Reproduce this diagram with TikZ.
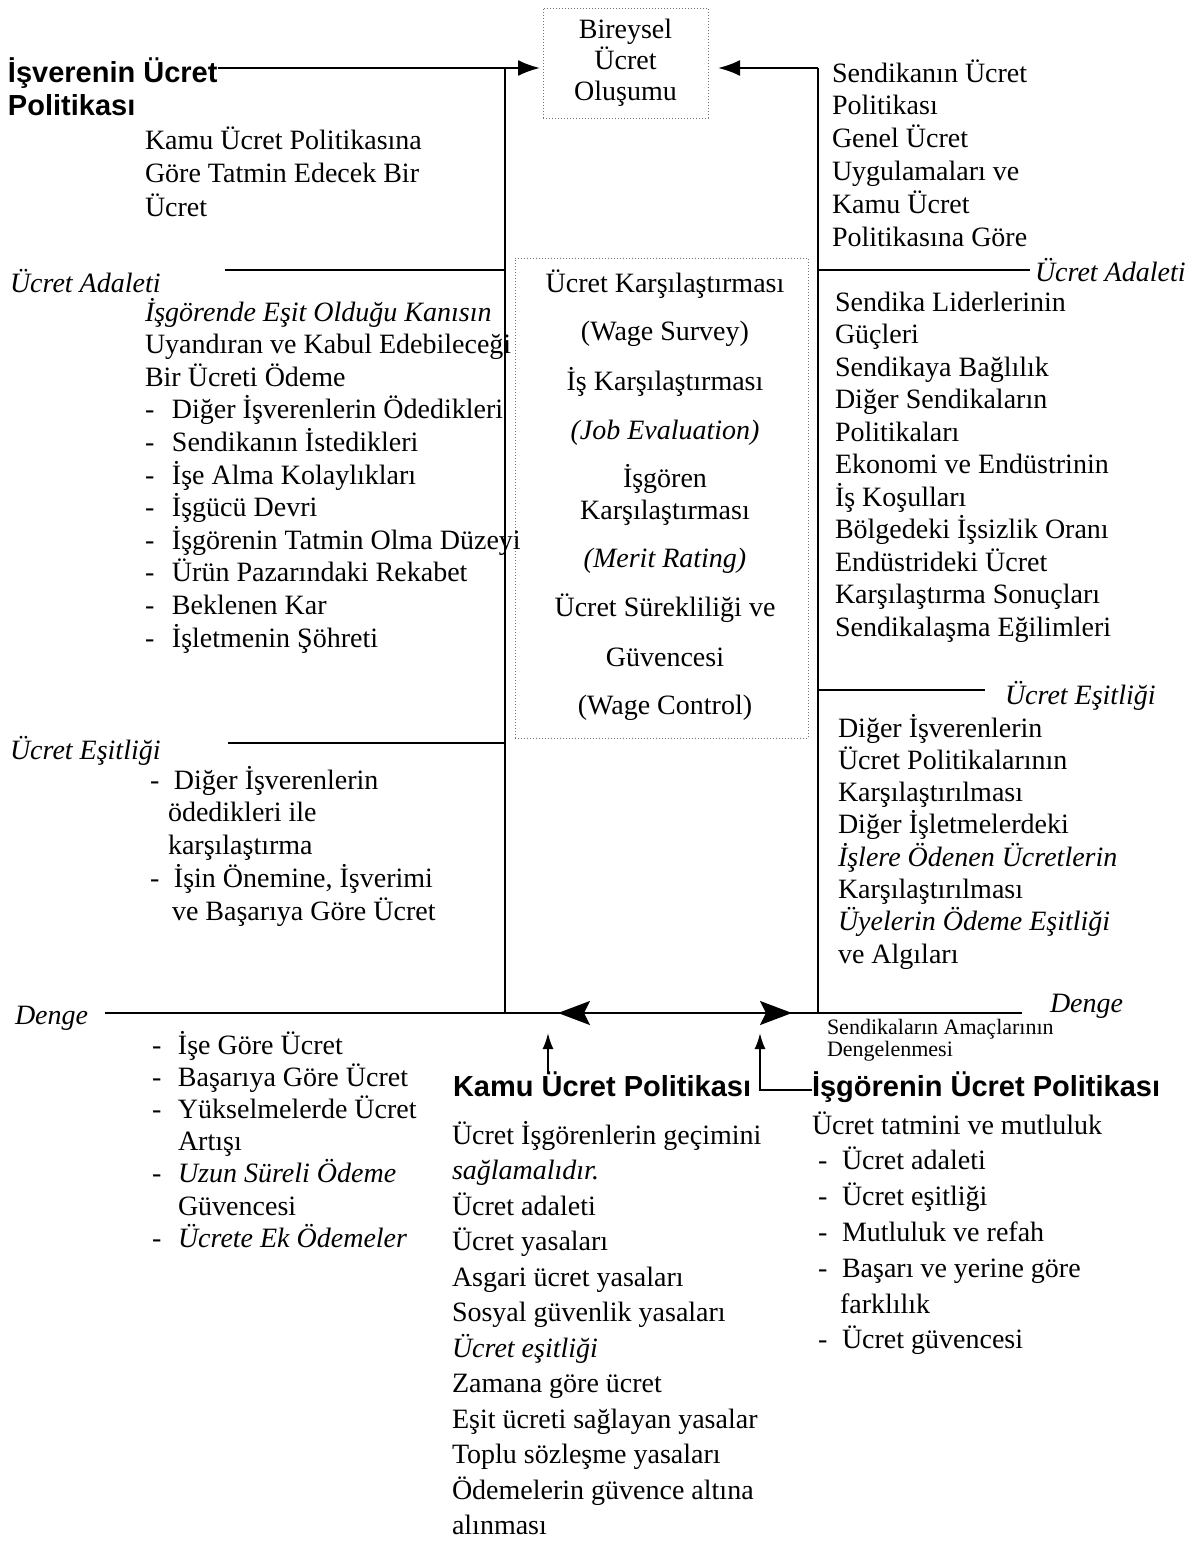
\documentclass[tikz,border=0pt]{standalone}
\usepackage{fontspec}
\setmainfont{Liberation Serif}
\newfontfamily\hsans{Liberation Sans}
\usetikzlibrary{arrows.meta}
\newcommand{\dashitem}[2][24pt]{\makebox[#1][l]{-}#2}
\begin{document}
\begin{tikzpicture}[x=1pt,y=-1pt,
 every node/.style={inner sep=0pt, outer sep=0pt},
 txt/.style={anchor=base west, font=\fontsize{28}{32}\selectfont},
 ctxt/.style={anchor=base, font=\fontsize{28}{32}\selectfont},
 hdr/.style={anchor=base west, font=\hsans\bfseries\fontsize{29}{32}\selectfont},
 lbl/.style={anchor=base west, font=\itshape\fontsize{28}{32}\selectfont},
 smalltxt/.style={anchor=base west, font=\fontsize{22}{17}\selectfont},
 conn/.style={line width=2.2pt},
 arr/.style={conn,-{Latex[length=22pt,width=16pt]}},
 bigarr/.style={conn,-{Stealth[length=32pt,width=24pt,inset=6pt]}},
 upar/.style={line width=2pt,-{Latex[length=16pt,width=11pt]}},
 dotbox/.style={draw=black!55, dotted, line width=1pt},
]
\fill[white] (0,0) rectangle (1200,1545);
\useasboundingbox (0,0) rectangle (1200,1545);

% boxes
\node[dotbox, minimum width=165pt, minimum height=110pt, align=center,
      font=\fontsize{28}{31}\selectfont] (box1) at (625.5,63) {Bireysel\\Ücret\\Oluşumu};
\node[dotbox, minimum width=293pt, minimum height=480pt] (box2) at (661.5,498) {};
\foreach \t/\yy [count=\i] in {{Ücret Karşılaştırması}/292, {(Wage Survey)}/340,
  {İş Karşılaştırması}/390, {\textit{(Job Evaluation)}}/439, {İşgören}/487,
  {Karşılaştırması}/519, {\textit{(Merit Rating)}}/567, {Ücret Sürekliliği ve}/616,
  {Güvencesi}/666, {(Wage Control)}/714}
  \node[ctxt] (bx\i) at (665,\yy) {\t};

% headers
\node[hdr] (hL1) at (8,82) {İşverenin Ücret};
\node[hdr] (hL2) at (8,115) {Politikası};
\node[hdr] (hK) at (453,1096) {Kamu Ücret Politikası};
\node[hdr] (hI) at (812,1096) {İşgörenin Ücret Politikası};

% side labels
\node[lbl] (lAdL) at (10,292) {Ücret Adaleti};
\node[lbl] (lEsL) at (10,759) {Ücret Eşitliği};
\node[lbl] (lDeL) at (15,1024) {Denge};
\node[lbl] (lAdR) at (1035,281) {Ücret Adaleti};
\node[lbl] (lEsR) at (1005,704) {Ücret Eşitliği};
\node[lbl] (lDeR) at (1050,1012) {Denge};

% left texts
\foreach \t [count=\i] in {{Kamu Ücret Politikasına}, {Göre Tatmin Edecek Bir}, {Ücret}}
  \node[txt] (k\i) at (145,{149+(\i-1)*33.5}) {\t};
\foreach \t [count=\i] in {{\textit{İşgörende Eşit Olduğu Kanısın}},
  {Uyandıran ve Kabul Edebileceği}, {Bir Ücreti Ödeme},
  {\dashitem[27pt]{Diğer İşverenlerin Ödedikleri}}, {\dashitem[27pt]{Sendikanın İstedikleri}},
  {\dashitem[27pt]{İşe Alma Kolaylıkları}}, {\dashitem[27pt]{İşgücü Devri}},
  {\dashitem[27pt]{İşgörenin Tatmin Olma Düzeyi}}, {\dashitem[27pt]{Ürün Pazarındaki Rekabet}},
  {\dashitem[27pt]{Beklenen Kar}}, {\dashitem[27pt]{İşletmenin Şöhreti}}}
  \node[txt] (la\i) at (145,{321+(\i-1)*32.6}) {\t};
\foreach \t/\xx [count=\i] in {{\dashitem{Diğer İşverenlerin}}/150, {ödedikleri ile}/168,
  {karşılaştırma}/168, {\dashitem{İşin Önemine, İşverimi}}/150, {ve Başarıya Göre Ücret}/172}
  \node[txt] (lb\i) at (\xx,{789+(\i-1)*32.8}) {\t};
\foreach \t/\xx [count=\i] in {{\dashitem[26pt]{İşe Göre Ücret}}/152,
  {\dashitem[26pt]{Başarıya Göre Ücret}}/152, {\dashitem[26pt]{Yükselmelerde Ücret}}/152,
  {Artışı}/178, {\dashitem[26pt]{\textit{Uzun Süreli Ödeme}}}/152, {Güvencesi}/178,
  {\dashitem[26pt]{\textit{Ücrete Ek Ödemeler}}}/152}
  \node[txt] (lc\i) at (\xx,{1054+(\i-1)*32.2}) {\t};

% right texts
\foreach \t [count=\i] in {{Sendikanın Ücret}, {Politikası}, {Genel Ücret},
  {Uygulamaları ve}, {Kamu Ücret}, {Politikasına Göre}}
  \node[txt] (s\i) at (832,{82+(\i-1)*32.8}) {\t};
\foreach \t [count=\i] in {{Sendika Liderlerinin}, {Güçleri}, {Sendikaya Bağlılık},
  {Diğer Sendikaların}, {Politikaları}, {Ekonomi ve Endüstrinin}, {İş Koşulları},
  {Bölgedeki İşsizlik Oranı}, {Endüstrideki Ücret}, {Karşılaştırma Sonuçları},
  {Sendikalaşma Eğilimleri}}
  \node[txt] (ra\i) at (835,{311+(\i-1)*32.5}) {\t};
\foreach \t [count=\i] in {{Diğer İşverenlerin}, {Ücret Politikalarının},
  {Karşılaştırılması}, {Diğer İşletmelerdeki}, {\textit{İşlere Ödenen Ücretlerin}},
  {Karşılaştırılması}, {\textit{Üyelerin Ödeme Eşitliği}}, {ve Algıları}}
  \node[txt] (rb\i) at (838,{737+(\i-1)*32.3}) {\t};
\node[smalltxt] (sm1) at (827,1034) {Sendikaların Amaçlarının};
\node[smalltxt] (sm2) at (827,1056) {Dengelenmesi};

% bottom texts
\foreach \t [count=\i] in {{Ücret İşgörenlerin geçimini}, {\textit{sağlamalıdır.}},
  {Ücret adaleti}, {Ücret yasaları}, {Asgari ücret yasaları}, {Sosyal güvenlik yasaları},
  {\textit{Ücret eşitliği}}, {Zamana göre ücret}, {Eşit ücreti sağlayan yasalar},
  {Toplu sözleşme yasaları}, {Ödemelerin güvence altına}, {alınması}}
  \node[txt] (kp\i) at (452,{1144+(\i-1)*35.5}) {\t};
\foreach \t/\xx [count=\i] in {{Ücret tatmini ve mutluluk}/812, {\dashitem{Ücret adaleti}}/818,
  {\dashitem{Ücret eşitliği}}/818, {\dashitem{Mutluluk ve refah}}/818,
  {\dashitem{Başarı ve yerine göre}}/818, {farklılık}/840, {\dashitem{Ücret güvencesi}}/818}
  \node[txt] (ip\i) at (\xx,{1134+(\i-1)*35.8}) {\t};

% connector coordinates
\coordinate (vL1) at (505,68);
\coordinate (vL2) at (505,1013);
\coordinate (vR1) at (818,68);
\coordinate (vR2) at (818,1013);
\coordinate (aL) at (225,270);
\coordinate (eL) at (228,743);
\coordinate (aR) at (1030,270);
\coordinate (eR) at (985,690);
\coordinate (dL) at (105,1013);
\coordinate (dR) at (1022,1013);
\coordinate (h1s) at (600,1013);
\coordinate (h1t) at (558,1013);
\coordinate (h2s) at (750,1013);
\coordinate (h2t) at (792,1013);
\coordinate (u1s) at (548,1074);
\coordinate (u1t) at (548,1033);
\coordinate (u2c) at (760,1090);
\coordinate (u2t) at (760,1033);

% connectors
\draw[arr, shorten >=3pt] (hL1.east |- vL1) -- (vL1 -| box1.west);
\draw[conn] (vL1) -- (vL2);
\draw[arr, shorten >=10pt] (vR1) -- (vR1 -| box1.east);
\draw[conn] (vR1) -- (vR2);
\draw[conn] (aL) -- (aL -| vL1);
\draw[conn] (eL) -- (eL -| vL1);
\draw[conn] (aR) -- (aR -| vR1);
\draw[conn] (eR) -- (eR -| vR1);
\draw[conn] (dL) -- (dR);
\draw[bigarr] (h1s) -- (h1t);
\draw[bigarr] (h2s) -- (h2t);
\draw[upar] (u1s) -- (u1t);
\draw[upar] (hI.west |- u2c) -- (u2c) -- (u2t);
\end{tikzpicture}
\end{document}
